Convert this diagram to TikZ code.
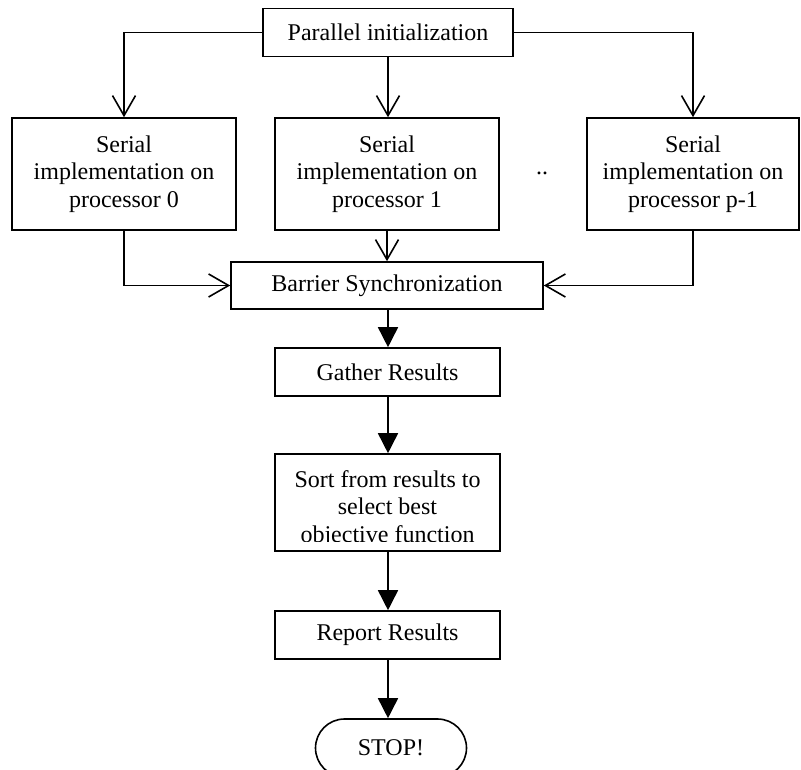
\documentclass[tikz,border=0pt]{standalone}
\usepackage{fontspec}
\setmainfont{Liberation Serif}
\usetikzlibrary{arrows.meta}
\tikzset{
  proc/.style={draw, line width=0.8pt, align=center, inner sep=0pt},
  openarrow/.style={line width=0.8pt, -{Straight Barb[length=10pt, width=11.5pt]}},
  fillarrow/.style={line width=0.8pt, -{Triangle[length=10pt, width=10pt]}},
}
\begin{document}
\begin{tikzpicture}[x=0.5pt, y=-0.5pt, font=\fontsize{12}{13.8}\selectfont]
  \useasboundingbox (0,0) rectangle (801,769);

  \node[proc, minimum width=125pt, minimum height=24pt] (init) at (388,32.5) {Parallel initialization};

  \foreach \i/\x/\w/\n in {0/124/112/0, 1/387/112/1, 2/693/106/p-1} {
      \node[proc, minimum width=\w pt, minimum height=56pt] (ser\i)
      at (\x,174) {Serial\\implementation on\\processor \n};
  }
  \node[inner sep=0pt] (dots) at (542,173) {..};

  \node[proc, minimum width=156pt, minimum height=23.5pt] (barrier) at (387,285.5) {Barrier Synchronization};
  \node[proc, minimum width=112.5pt, minimum height=24pt] (gather) at (387.5,372) {Gather Results};
  \node[proc, minimum width=112.5pt, minimum height=48.5pt] (sort) at (387.5,502.5) {};
  \begin{scope}
    \clip (sort.north west) rectangle ([yshift=5pt]sort.south east);
    \node[align=center] (sorttext) at (387.5,509) {Sort from results to\\select best\\objective function};
  \end{scope}
  \node[proc, minimum width=112.5pt, minimum height=24pt] (report) at (387.5,635) {Report Results};
  \node[draw, line width=0.8pt, rounded corners=14.5pt, minimum width=75.5pt, minimum height=29pt] (stop) at (391,748) {STOP!};

  % fan out and back in
  \draw[openarrow] (init.west) -| (ser0.north);
  \draw[openarrow] (init.south) -- (init.south |- ser1.north);
  \draw[openarrow] (init.east) -| (ser2.north);
  \draw[openarrow] (ser0.south) |- (barrier.west);
  \draw[openarrow] (ser1.south) -- (barrier.north);
  \draw[openarrow] (ser2.south) |- (barrier.east);

  \foreach \a/\b in {barrier/gather, gather/sort, sort/report, report/stop} {
      \draw[fillarrow] (\a.south -| 388,0) -- (\b.north -| 388,0);
  }
\end{tikzpicture}
\end{document}
